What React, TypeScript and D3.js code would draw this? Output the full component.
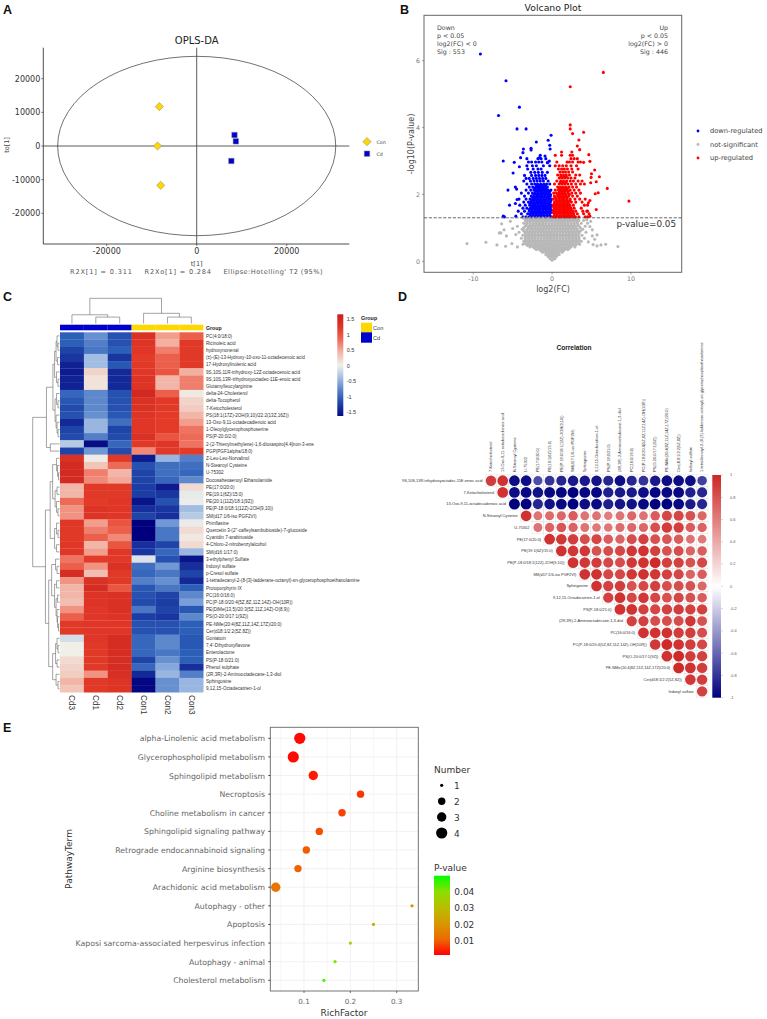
import React from "react";
import * as d3 from "d3";

const SANS = "'DejaVu Sans', sans-serif";
const ARIAL = "'Liberation Sans', Arial, sans-serif";

// ---- A: OPLS-DA
const oplsTicksX = [-20000, 0, 20000];
const oplsTicksY = [-20000, -10000, 0, 10000, 20000];
const oplsCon: [number, number][] = [[-8300, 11700], [-8700, 0], [-8000, -11700]];
const oplsCd: [number, number][] = [[8400, 3270], [8700, 1390], [7700, -4450]];
const oplsEllipse = [30900, 26650];

// ---- B: volcano
const volcanoTicksX = [-10, 0, 10];
const volcanoTicksY = [0, 2, 4, 6];
const downOutliers: [number, number][] = [
  [-9.1, 6.2], [-5.85, 5.4], [-4.15, 4.61], [-6.8, 4.36], [-4.45, 3.96], [-3.3, 3.96], [-0.13, 3.77],
  [-0.5, 3.62], [-2.0, 3.57], [-0.3, 3.47], [-0.25, 3.36], [-2.67, 3.38], [-2.67, 3.33], [-3.64, 3.36],
  [-3.7, 3.25], [-4, 3.1], [-6.2, 3.0], [-4.8, 2.96], [-4.15, 2.83], [-4.95, 2.64], [-5.6, 2.13],
  [-4.66, 2.22], [-4.5, 2.16], [-5.4, 1.68], [-4.66, 1.73], [-4.45, 1.85], [-6.2, 1.35], [-6.05, 1.33],
  [-4.6, 1.35], [-1.5, 3.17], [-1.6, 3.1], [-0.9, 3.15], [-0.35, 3.0], [-0.6, 2.95],
];
const downCloud: [number, number[]][] = [
  [1.33, [-3.7, -3.3, -2.9, -2.55, -2.2, -1.85, -1.5, -1.15, -0.8, -0.45, -0.12]],
  [1.42, [-3.9, -3.1, -2.75, -2.4, -2.05, -1.7, -1.35, -1, -0.65, -0.3]],
  [1.5, [-4.3, -3.5, -2.9, -2.55, -2.2, -1.85, -1.5, -1.15, -0.8, -0.45, -0.12]],
  [1.59, [-3.7, -3.2, -2.75, -2.4, -2.05, -1.7, -1.35, -1, -0.65, -0.3]],
  [1.68, [-4.1, -3.4, -2.85, -2.5, -2.15, -1.8, -1.45, -1.1, -0.75, -0.4, -0.1]],
  [1.77, [-3.6, -3, -2.65, -2.3, -1.95, -1.6, -1.25, -0.9, -0.55, -0.22]],
  [1.86, [-4.2, -3.3, -2.8, -2.45, -2.1, -1.75, -1.4, -1.05, -0.7, -0.35, -0.1]],
  [1.95, [-3.5, -2.65, -2.3, -1.95, -1.6, -1.25, -0.9, -0.55, -0.22]],
  [2.04, [-3.9, -3, -2.5, -2.15, -1.8, -1.45, -1.1, -0.75, -0.4]],
  [2.13, [-3.3, -2.7, -2.3, -1.95, -1.6, -1.25, -0.9, -0.5, -0.15]],
  [2.22, [-2.9, -2.45, -2.05, -1.7, -1.35, -1, -0.6]],
  [2.31, [-3.2, -2.6, -2.2, -1.85, -1.45, -1.05, -0.7, -0.3]],
  [2.4, [-3.6, -2.75, -2.3, -1.9, -1.5, -1.1, -0.5]],
  [2.48, [-3.3, -2.9, -2.4, -2, -1.6, -1.2, -0.8]],
  [2.57, [-3.5, -2.6, -2.1, -1.7, -1.3, -0.9]],
  [2.66, [-2.7, -2.2, -1.75, -1.25, -0.6]],
  [2.76, [-3.1, -2.4, -1.8, -1.4]],
  [2.86, [-3.2, -2.5, -2, -1.1, -0.3]],
  [2.97, [-3, -2.6, -2.1, -1.7, -1.3, -0.5]],
  [3.07, [-3.2, -1.8, -1.4, -0.8]],
  // packed core of the cloud, between the rows above
  [1.37, [-2.75, -2.4, -2.05, -1.7, -1.35, -1, -0.65, -0.3]],
  [1.46, [-2.6, -2.25, -1.9, -1.55, -1.2, -0.85, -0.5, -0.15]],
  [1.55, [-2.9, -2.55, -2.2, -1.85, -1.5, -1.15, -0.8, -0.45, -0.12]],
  [1.64, [-2.6, -2.25, -1.9, -1.55, -1.2, -0.85, -0.5, -0.15]],
  [1.73, [-2.8, -2.45, -2.1, -1.75, -1.4, -1.05, -0.7, -0.35]],
  [1.82, [-2.6, -2.25, -1.9, -1.55, -1.2, -0.85, -0.5, -0.15]],
  [1.91, [-2.45, -2.1, -1.75, -1.4, -1.05, -0.7, -0.35]],
  [2.0, [-2.3, -1.95, -1.6, -1.25, -0.9, -0.55, -0.2]],
  [2.09, [-2.1, -1.75, -1.4, -1.05, -0.7, -0.3]],
  [2.18, [-2.2, -1.8, -1.45, -1.1, -0.75]],
  [2.27, [-1.95, -1.6, -1.25, -0.85]],
];
const upOutliers: [number, number][] = [
  [6.5, 5.65], [2.3, 5.22], [2.3, 4.08], [2.3, 3.96], [2.6, 3.82], [4.0, 3.86], [3.4, 3.63], [3.2, 3.45],
  [3.5, 3.34], [4.66, 3.19], [4.8, 2.99], [4.0, 2.96], [5.4, 2.73], [5.0, 2.62], [6.0, 2.53], [4.95, 2.51],
  [5.6, 2.38], [4.9, 2.35], [7.0, 2.18], [5.85, 2.05], [5.47, 2.02], [9.75, 1.8], [4.8, 1.82], [4.6, 1.75],
  [5.6, 1.55], [4.5, 1.5], [4.8, 1.35],
];
const upCloud: [number, number[]][] = [
  [1.33, [0.15, 0.5, 0.85, 1.2, 1.55, 1.9, 2.25, 2.6, 2.95, 3.4, 4.2, 4.5]],
  [1.42, [0.3, 0.65, 1, 1.35, 1.7, 2.05, 2.4, 2.75, 3.2, 4, 4.7]],
  [1.5, [0.15, 0.5, 0.85, 1.2, 1.55, 1.9, 2.25, 2.6, 3, 3.9, 4.4]],
  [1.59, [0.3, 0.65, 1, 1.35, 1.7, 2.05, 2.4, 2.8, 3.7]],
  [1.68, [0.15, 0.5, 0.85, 1.2, 1.55, 1.9, 2.25, 2.7, 4.1, 4.5]],
  [1.77, [0.3, 0.65, 1, 1.35, 1.7, 2.05, 2.45, 3, 3.8]],
  [1.86, [0.15, 0.5, 0.85, 1.2, 1.55, 1.9, 2.3, 2.9, 3.5, 4.2]],
  [1.95, [0.3, 0.7, 1.05, 1.4, 1.75, 2.1, 2.6, 3.2]],
  [2.04, [0.2, 0.55, 0.9, 1.25, 1.6, 2, 2.5, 3, 3.6]],
  [2.13, [0.4, 0.8, 1.15, 1.5, 1.85, 2.3, 2.8, 3.4]],
  [2.22, [0.7, 1.05, 1.4, 1.75, 2.15, 2.6, 3.1]],
  [2.31, [0.3, 0.9, 1.25, 1.6, 2, 2.45, 3, 3.6, 4.1]],
  [2.4, [0.6, 1.1, 1.45, 1.85, 2.3, 2.7, 3.3, 3.8]],
  [2.49, [0.9, 1.25, 1.6, 2, 2.4, 2.9]],
  [2.58, [0.7, 1.1, 1.45, 1.8, 2.2, 3, 3.5]],
  [2.67, [1, 1.35, 1.7, 2.1, 2.6]],
  [2.76, [0.8, 1.2, 1.55, 1.95, 2.5, 3.3]],
  [2.86, [0.4, 0.9, 1.35, 1.8, 2.4, 3.1]],
  [2.97, [0.6, 1.9, 2.2, 2.6, 3.3, 3.6]],
  [3.07, [2.4, 2.8, 3.2]],
  [3.17, [0.4, 1.2, 2.3, 2.6]],
  [3.27, [1.2, 2.5]],
  // packed core of the cloud, between the rows above
  [1.37, [0.3, 0.65, 1, 1.35, 1.7, 2.05, 2.4, 2.75]],
  [1.46, [0.15, 0.5, 0.85, 1.2, 1.55, 1.9, 2.25, 2.6]],
  [1.55, [0.3, 0.65, 1, 1.35, 1.7, 2.05, 2.4]],
  [1.64, [0.15, 0.5, 0.85, 1.2, 1.55, 1.9, 2.25]],
  [1.73, [0.3, 0.65, 1, 1.35, 1.7, 2.05]],
  [1.82, [0.5, 0.85, 1.2, 1.55, 1.9, 2.25]],
  [1.91, [0.4, 0.85, 1.2, 1.55, 1.9]],
  [2.0, [0.7, 1.05, 1.4, 1.75, 2.2]],
  [2.09, [0.95, 1.3, 1.65, 2.05]],
  [2.18, [0.9, 1.25, 1.6, 1.95]],
  [2.36, [1.05, 1.4, 1.75]],
  [2.53, [1.1, 1.45, 1.8]],
];
const grayOutliers: [number, number][] = [
  [-10.8, 0.53], [-8.4, 0.57], [-7, 0.49], [-5.9, 0.45], [-5.1, 0.53], [-4.4, 0.43], [-6.7, 0.85], [-6.1, 0.94],
  [-5.8, 0.76], [-6.4, 1.12], [-6.5, 0.85], [-5.3, 1.2], [-5, 0.98], [-4.6, 0.8], [8.35, 0.44], [6.8, 0.51],
  [6.2, 0.49], [5.7, 0.46], [5.4, 0.66], [5.7, 0.79], [5.1, 0.94], [4.8, 1.04], [4.4, 1.24], [5.1, 0.76],
  [4.6, 0.58], [5.2, 0.5], [4.9, 1.2],
];
const grayCloud: [number, number[]][] = [
  [0.03, [0]],
  [0.08, [-0.25, 0.1, 0.35]],
  [0.14, [-0.5, -0.15, 0.2, 0.55]],
  [0.2, [-0.8, -0.45, -0.1, 0.25, 0.6, 0.9]],
  [0.27, [-1.2, -0.8, -0.4, 0, 0.4, 0.8, 1.25]],
  [0.35, [-2, -1.6, -1.2, -0.8, -0.4, 0, 0.4, 0.8, 1.2, 1.6, 2]],
  [0.43, [-2.8, -2.4, -2, -1.6, -1.2, -0.8, -0.4, 0, 0.4, 0.8, 1.2, 1.6, 2, 2.4, 2.9]],
  [0.51, [-3.7, -3.3, -2.9, -2.5, -2.1, -1.7, -1.3, -0.9, -0.5, -0.1, 0.3, 0.7, 1.1, 1.5, 1.9, 2.3, 2.7, 3.1, 3.5]],
  [0.6, [-3.6, -3.2, -2.8, -2.4, -2, -1.6, -1.2, -0.8, -0.4, 0, 0.4, 0.8, 1.2, 1.6, 2, 2.4, 2.8, 3.2, 3.7]],
  [0.69, [-3.9, -3.4, -3, -2.6, -2.2, -1.8, -1.4, -1, -0.6, -0.2, 0.2, 0.6, 1, 1.4, 1.8, 2.2, 2.6, 3, 3.4, 4.1]],
  [0.78, [-3.7, -3.2, -2.8, -2.4, -2, -1.6, -1.2, -0.8, -0.4, 0, 0.4, 0.8, 1.2, 1.6, 2, 2.4, 2.8, 3.2, 3.8]],
  [0.87, [-4.2, -3.4, -3, -2.6, -2.2, -1.8, -1.4, -1, -0.6, -0.2, 0.2, 0.6, 1, 1.4, 1.8, 2.2, 2.6, 3, 3.4, 4.3]],
  [0.96, [-3.8, -3.2, -2.8, -2.4, -2, -1.6, -1.2, -0.8, -0.4, 0, 0.4, 0.8, 1.2, 1.6, 2, 2.4, 2.8, 3.2, 3.9]],
  [1.05, [-4.4, -3.4, -3, -2.6, -2.2, -1.8, -1.4, -1, -0.6, -0.2, 0.2, 0.6, 1, 1.4, 1.8, 2.2, 2.6, 3, 3.4, 4.2]],
  [1.14, [-3.6, -3.2, -2.8, -2.4, -2, -1.6, -1.2, -0.8, -0.4, 0, 0.4, 0.8, 1.2, 1.6, 2, 2.4, 2.8, 3.2, 3.7, 4.5]],
  [1.22, [-3.4, -3, -2.6, -2.2, -1.8, -1.4, -1, -0.6, -0.2, 0.2, 0.6, 1, 1.4, 1.8, 2.2, 2.6, 3, 3.4, 4]],
  [1.29, [-3.6, -3.2, -2.8, -2.4, -2, -1.6, -1.2, -0.8, -0.4, 0, 0.4, 0.8, 1.2, 1.6, 2, 2.4, 2.8, 3.1]],
  // packed core of the cloud, between the rows above
  [0.17, [-0.3, 0.05, 0.4]],
  [0.24, [-0.6, -0.2, 0.2, 0.6]],
  [0.31, [-1.4, -1, -0.6, -0.2, 0.2, 0.6, 1, 1.4]],
  [0.39, [-2.2, -1.8, -1.4, -1, -0.6, -0.2, 0.2, 0.6, 1, 1.4, 1.8, 2.2]],
  [0.47, [-3.1, -2.7, -2.3, -1.9, -1.5, -1.1, -0.7, -0.3, 0.1, 0.5, 0.9, 1.3, 1.7, 2.1, 2.5, 2.9]],
  [0.55, [-3.4, -3, -2.6, -2.2, -1.8, -1.4, -1, -0.6, -0.2, 0.2, 0.6, 1, 1.4, 1.8, 2.2, 2.6, 3, 3.4]],
  [0.64, [-3.4, -3, -2.6, -2.2, -1.8, -1.4, -1, -0.6, -0.2, 0.2, 0.6, 1, 1.4, 1.8, 2.2, 2.6, 3, 3.4]],
  [0.73, [-3.4, -3, -2.6, -2.2, -1.8, -1.4, -1, -0.6, -0.2, 0.2, 0.6, 1, 1.4, 1.8, 2.2, 2.6, 3, 3.4]],
  [0.82, [-3.4, -3, -2.6, -2.2, -1.8, -1.4, -1, -0.6, -0.2, 0.2, 0.6, 1, 1.4, 1.8, 2.2, 2.6, 3, 3.4]],
  [0.91, [-3.6, -3.2, -2.8, -2.4, -2, -1.6, -1.2, -0.8, -0.4, 0, 0.4, 0.8, 1.2, 1.6, 2, 2.4, 2.8, 3.2, 3.6]],
  [1.0, [-3.6, -3, -2.6, -2.2, -1.8, -1.4, -1, -0.6, -0.2, 0.2, 0.6, 1, 1.4, 1.8, 2.2, 2.6, 3, 3.6]],
  [1.09, [-3.3, -2.8, -2.4, -2, -1.6, -1.2, -0.8, -0.4, 0, 0.4, 0.8, 1.2, 1.6, 2, 2.4, 2.8, 3.3]],
  [1.18, [-3.2, -2.8, -2.4, -2, -1.6, -1.2, -0.8, -0.4, 0, 0.4, 0.8, 1.2, 1.6, 2, 2.4, 2.8, 3.2]],
  [1.25, [-3.2, -2.8, -2.4, -2, -1.6, -1.2, -0.8, -0.4, 0, 0.4, 0.8, 1.2, 1.6, 2, 2.4, 2.8, 3.2]],
];
const volcanoLegend = ["down-regulated", "not-significant", "up-regulated"];
const volcanoColors = ["#0000ff", "#b8b8b8", "#ff0000"];

// ---- C: heatmap
const heatSamples = ["Cd3", "Cd1", "Cd2", "Con1", "Con2", "Con3"];
const heatTicks = [1.5, 1, 0.5, 0, -0.5, -1, -1.5];
const heatLabels = [
  "PC(4:0/18:0)", "Ricinoleic acid", "hydroxynonenal", "(±)-(E)-13-Hydroxy-10-oxo-11-octadecenoic acid",
  "17-Hydroxylinolenic acid", "9S,10S,11R-trihydroxy-12Z-octadecenoic acid", "9S,10S,13R-trihydroxyoctadec-11E-enoic acid",
  "Glutamylleucylarginine", "delta-24-Cholesterol", "delta-Tocopherol", "7-Ketocholesterol",
  "PS(18:1(17Z)-2OH(9,10)/22:2(13Z,16Z))", "13-Oxo-9,11-octadecadienoic acid", "1-Oleoylglycerophosphoserine",
  "PS(P-20:0/2:0)", "2-(2-Thienylmethylene)-1,6-dioxaspiro[4.4]non-3-ene", "PGP(PGF1alpha/18:0)", "Z-Leu-Leu-Norvalinol",
  "N-Stearoyl Cysteine", "U-75302", "Docosahexaenoyl Ethanolamide", "PE(17:0/20:0)", "PE(19:1(6Z)/15:0)",
  "PE(20:1(11Z)/18:1(9Z))", "PE(P-18:0/18:1(12Z)-2OH(9,10))", "SM(d17:1/6-iso PGF2VI)", "Primflasine",
  "Quercetin 3-(2''-caffeylsambubioside)-7-glucoside", "Cyanidin 7-arabinoside", "4-Chloro-2-nitrobenzylalcohol",
  "SM(d16:1/17:0)", "3-ethylphenyl Sulfate", "Indoxyl sulfate", "p-Cresol sulfate",
  "1-tetradecanyl-2-(8-[3]-ladderane-octanyl)-sn-glycerophosphoethanolamine", "Protoporphyrin IX", "PC(16:0/16:0)",
  "PC(P-18:0/20:4(5Z,8Z,11Z,14Z)-OH(10R))", "PE(DiMe(13,5)/20:3(5Z,11Z,14Z)-O(8,9))", "PS(O-20:0/17:1(9Z))",
  "PE-NMe(20:4(8Z,11Z,14Z,17Z)/20:0)", "Cer(d18:1/2:2(5Z,8Z))", "Goniatoin", "7,4'-Dihydroxyflavone", "Enterolactone",
  "PS(P-18:0/21:0)", "Phenol sulphate", "(2R,3R)-2-Aminooctadecane-1,3-diol", "Sphingosine", "9,12,15-Octadecatrien-1-ol",
];
const heatValues = [
  [-1.0, -0.7, -1.1, 1.3, 0.55, 0.85],
  [-1.0, -0.8, -1.1, 1.25, 0.45, 1.15],
  [-1.2, -0.85, -1.0, 1.2, 0.7, 1.15],
  [-1.3, -0.4, -1.3, 1.1, 0.85, 1.15],
  [-1.45, -0.4, -1.05, 1.15, 0.85, 1.15],
  [-1.5, 0.2, -1.4, 1.2, 0.9, 0.45],
  [-1.45, 0.1, -1.4, 1.25, 0.4, 0.7],
  [-1.45, 0.1, -1.4, 1.25, 0.4, 0.7],
  [-0.95, -0.75, -1.1, 1.5, 0.85, 0.05],
  [-1.05, -0.75, -1.1, 1.3, 1.15, 0.2],
  [-1.15, -0.75, -1.1, 1.3, 1.15, 0.25],
  [-1.1, -0.7, -1.05, 1.25, 1.1, 0.4],
  [-1.4, -0.45, -0.9, 1.2, 1.1, 0.55],
  [-1.2, -0.45, -1.2, 1.2, 1.1, 0.75],
  [-1.15, -0.8, -1.15, 1.3, 0.9, 0.8],
  [-0.3, -1.6, -0.95, 1.15, 1.2, 0.75],
  [-1.2, -0.65, -1.15, 0.65, 1.15, 1.1],
  [1.3, 0.03, 1.15, -1.5, -0.45, -0.8],
  [1.45, 0.3, 0.8, -1.1, -0.9, -0.9],
  [1.45, 0.7, 0.4, -1.2, -0.9, -0.95],
  [1.45, 0.65, 0.5, -1.2, -0.95, -0.75],
  [0.4, 1.15, 1.15, -1.25, -1.5, 0.15],
  [0.4, 1.15, 1.15, -1.25, -1.3, -0.05],
  [0.8, 1.1, 1.2, -1.55, -1.1, -0.02],
  [0.6, 1.25, 1.2, -1.35, -1.3, -0.4],
  [0.6, 1.25, 1.2, -1.2, -1.35, -0.3],
  [1.2, 0.55, 0.9, -1.7, -0.65, -0.03],
  [1.15, 0.7, 0.85, -1.7, -0.85, 0.15],
  [1.15, 0.85, 0.65, -1.7, -0.85, 0.05],
  [1.2, 0.4, 0.9, -1.35, -1.2, 0.15],
  [1.2, 0.55, 1.2, -1.3, -0.95, -0.45],
  [0.75, 1.1, 1.15, -0.1, -1.1, -1.55],
  [0.85, 0.6, 1.3, -0.9, -0.65, -1.35],
  [1.4, 0.35, 1.15, -0.95, -0.85, -1.2],
  [0.6, 1.3, 1.15, -0.8, -0.7, -1.4],
  [0.4, 1.4, 0.9, -1.05, -0.85, -1.0],
  [0.4, 1.25, 1.3, -1.1, -1.2, -0.75],
  [0.35, 1.25, 1.3, -1.15, -1.25, -0.6],
  [0.6, 1.2, 1.3, -0.85, -1.2, -1.05],
  [0.85, 1.2, 1.25, -1.25, -1.3, -0.75],
  [1.15, 1.2, 1.2, -1.1, -1.1, -1.0],
  [1.15, 1.2, 1.2, -1.1, -1.1, -1.0],
  [-0.15, 1.2, 1.4, -0.95, -0.75, -1.05],
  [0.01, 1.15, 1.4, -0.95, -0.75, -1.05],
  [0.01, 1.15, 1.4, -0.95, -0.85, -1.0],
  [0.15, 1.15, 1.4, -1.2, -0.7, -1.0],
  [0.2, 1.15, 1.4, -0.95, -0.55, -1.35],
  [0.25, 0.6, 1.35, -1.4, -0.45, -0.8],
  [0.4, 1.15, 1.25, -1.65, -0.7, -0.45],
  [0.3, 1.15, 1.25, -1.65, -0.7, -0.45],
];
// merge trees: [height, left, right], a number is a leaf index
type Tree = number | [number, Tree, Tree];
const colTree: Tree = [26, [9, 0, [6.6, 1, 2]], [10.5, 3, [6.6, 4, 5]]];
const rowTree: Tree = [27.3,
  [13.3,
    [6.7,
      [5, [3.5, [2.5, 0, [1.5, 1, 2]], [2, 3, 4]], [3, 5, [1.5, 6, 7]]],
      [4.5, [3, 8, [1.5, 9, 10]], [3.5, 11, [2.5, 12, [1.5, 13, 14]]]]],
    [9.3, 15, 16]],
  [14.3,
    [9.5,
      [7, [3, 17, [2, 18, [1, 19, 20]]], [4.5, [2.5, 21, 22], [3, 23, [1.5, 24, 25]]]],
      [5, [3, 26, [1.5, 27, 28]], [3, 29, 30]]],
    [11,
      [8, [4, 31, [2.5, 32, 33]], [5, [3, 34, 35], [3.5, [2, 36, 37], [2.5, 38, [2, 39, [1, 40, 41]]]]]],
      [7, [4, [2.5, 42, [1.5, 43, 44]], [2.5, 45, 46]], [3.5, 47, [1.5, 48, 49]]]]],
];

// ---- D: correlation
const corrRows = [
  "9S,10S,13R-trihydroxyoctadec-11E-enoic acid", "7-Ketocholesterol", "13-Oxo-9,11-octadecadienoic acid",
  "N-Stearoyl Cysteine", "U-75302", "PE(17:0/20:0)", "PE(19:1(6Z)/15:0)", "PE(P-18:0/18:1(12Z)-2OH(9,10))",
  "SM(d17:1/6-iso PGF2VI)", "Sphingosine", "9,12,15-Octadecatrien-1-ol", "PS(P-18:0/21:0)",
  "(2R,3R)-2-Aminooctadecane-1,3-diol", "PC(16:0/16:0)", "PC(P-18:0/20:4(5Z,8Z,11Z,14Z)-OH(10R))",
  "PS(O-20:0/17:1(9Z))", "PE-NMe(20:4(8Z,11Z,14Z,17Z)/20:0)", "Cer(d18:1/2:2(5Z,8Z))", "Indoxyl sulfate",
];
const corrCols = [
  ...corrRows.slice(1),
  "1-tetradecanyl-2-(8-[3]-ladderane-octanyl)-sn-glycerophosphoethanolamine",
];
const corrValues = [
  [0.9, 0.95, -0.95, -0.95, -0.7, -0.8, -0.85, -0.9, -0.9, -0.92, -0.85, -0.95, -0.85, -0.8, -0.9, -0.95, -0.95, -0.95, -0.75],
  [0.95, -0.95, -0.97, -0.93, -0.97, -0.98, -1, -0.97, -0.98, -0.88, -0.9, -0.9, -0.95, -0.98, -0.97, -0.97, -0.88, -0.85],
  [-1, -1, -0.85, -0.93, -0.97, -1, -0.95, -0.97, -0.88, -0.92, -0.93, -0.97, -0.99, -1, -0.97, -0.9, -0.85],
  [0.95, 0.65, 0.68, 0.7, 0.75, 0.65, 0.65, 0.6, 0.65, 0.7, 0.65, 0.75, 0.85, 0.85, 0.8, 0.7],
  [0.65, 0.72, 0.78, 0.72, 0.65, 0.62, 0.62, 0.68, 0.7, 0.7, 0.8, 0.9, 0.88, 0.75, 0.72],
  [0.95, 0.92, 0.9, 0.82, 0.85, 0.75, 0.72, 0.82, 0.88, 0.8, 0.78, 0.75, 0.65, 0.62],
  [0.95, 0.93, 0.92, 0.8, 0.82, 0.85, 0.92, 0.95, 0.88, 0.8, 0.82, 0.72, 0.75],
  [0.95, 0.92, 0.9, 0.85, 0.82, 0.92, 0.95, 0.98, 0.88, 0.88, 0.8, 0.85],
  [0.95, 0.95, 0.85, 0.85, 0.92, 0.95, 0.92, 0.88, 0.85, 0.72, 0.75],
  [0.95, 0.88, 0.9, 0.8, 0.85, 0.88, 0.82, 0.82, 0.8, 0.7],
  [0.88, 0.95, 0.85, 0.92, 0.85, 0.8, 0.85, 0.8, 0.75],
  [0.95, 0.95, 0.88, 0.85, 0.88, 0.9, 0.88, 0.88],
  [0.88, 0.88, 0.82, 0.82, 0.82, 0.92, 0.8],
  [0.95, 0.95, 0.95, 0.9, 0.9, 0.82],
  [0.92, 0.98, 0.95, 0.9, 0.85],
  [0.95, 0.98, 0.9, 0.88],
  [0.98, 0.95, 0.9],
  [0.92, 0.9],
  [0.88],
];
const corrTicks = [1, 0.8, 0.6, 0.4, 0.2, 0, -0.2, -0.4, -0.6, -0.8, -1];

// ---- E: enrichment bubbles
const pathways = [
  "alpha-Linolenic acid metabolism", "Glycerophospholipid metabolism", "Sphingolipid metabolism", "Necroptosis",
  "Choline metabolism in cancer", "Sphingolipid signaling pathway", "Retrograde endocannabinoid signaling",
  "Arginine biosynthesis", "Arachidonic acid metabolism", "Autophagy - other", "Apoptosis",
  "Kaposi sarcoma-associated herpesvirus infection", "Autophagy - animal", "Cholesterol metabolism",
];
const richFactor = [0.0909, 0.0769, 0.12, 0.222, 0.182, 0.133, 0.105, 0.087, 0.039, 0.333, 0.25, 0.2, 0.167, 0.143];
const pathwayCount = [4, 4, 3, 2, 2, 2, 2, 2, 3, 1, 1, 1, 1, 1];
const pathwayP = [0.0015, 0.0015, 0.002, 0.004, 0.005, 0.0065, 0.0085, 0.0095, 0.013, 0.019, 0.026, 0.037, 0.043, 0.048];
const richTicks = [0.1, 0.2, 0.3];
const pTicks = [0.04, 0.03, 0.02, 0.01];
const countLegend = [1, 2, 3, 4];

const PanelLetter = ({ x, y, t }: { x: number; y: number; t: string }) => (
  <text x={x} y={y} fontFamily={ARIAL} fontWeight="bold" fontSize={12.5} fill="#111">{t}</text>
);

const OplsPanel = () => {
  const x = d3.scaleLinear().domain([-20000, 20000]).range([106.7, 286.7]);
  const y = d3.scaleLinear().domain([-20000, 20000]).range([213.3, 78.7]);
  const square = d3.symbol().type(d3.symbolSquare).size(30)()!;
  const diamond = d3.symbol().type(d3.symbolSquare).size(34)()!;
  const left = 43.3, right = 349.3, top = 47.7, bottom = 244;
  return (
    <g fontFamily={SANS}>
      <text x={x(0)} y={43.5} textAnchor="middle" fontSize={10} fill="#222">OPLS-DA</text>
      <line x1={left} x2={left} y1={top} y2={bottom} stroke="#222" strokeWidth={0.8} />
      <line x1={left} x2={right} y1={bottom} y2={bottom} stroke="#222" strokeWidth={0.8} />
      <line x1={x(0)} x2={x(0)} y1={top} y2={bottom} stroke="#333" strokeWidth={0.8} />
      <line x1={left} x2={right} y1={y(0)} y2={y(0)} stroke="#333" strokeWidth={0.8} />
      <ellipse cx={x(0)} cy={y(0)} rx={x(oplsEllipse[0]) - x(0)} ry={y(0) - y(oplsEllipse[1])} fill="none" stroke="#333" strokeWidth={0.7} />
      {oplsTicksX.map((t) => (
        <g key={t}>
          <line x1={x(t)} x2={x(t)} y1={bottom} y2={bottom + 2} stroke="#222" strokeWidth={0.6} />
          <text x={x(t)} y={bottom + 9.5} textAnchor="middle" fontSize={8} fill="#333">{t}</text>
        </g>
      ))}
      {oplsTicksY.map((t) => (
        <g key={t}>
          <line x1={left - 2} x2={left} y1={y(t)} y2={y(t)} stroke="#222" strokeWidth={0.6} />
          <text x={left - 3} y={y(t) + 3} textAnchor="end" fontSize={8} fill="#333">{t}</text>
        </g>
      ))}
      {oplsCon.map((d, i) => (
        <path key={i} d={diamond} transform={`translate(${x(d[0])},${y(d[1])}) rotate(45)`} fill="#ffd700" stroke="#888" strokeWidth={0.5} />
      ))}
      {oplsCd.map((d, i) => (
        <path key={i} d={square} transform={`translate(${x(d[0])},${y(d[1])})`} fill="#0000cd" stroke="#889" strokeWidth={0.5} />
      ))}
      <text x={x(0)} y={266} textAnchor="middle" fontSize={6.5} fill="#444">t[1]</text>
      <text transform="translate(8.5,145) rotate(-90)" textAnchor="middle" fontSize={6.5} fill="#444">to[1]</text>
      <text x={70} y={274} fontSize={6.6} fill="#555" textLength={62}>R2X[1] = 0.311</text>
      <text x={144.5} y={274} fontSize={6.6} fill="#555" textLength={66.5}>R2Xo[1] = 0.284</text>
      <text x={223.5} y={274} fontSize={6.6} fill="#555" textLength={99}>Ellipse:Hotelling' T2 (95%)</text>
      <path d={diamond} transform="translate(367,141.7) rotate(45)" fill="#ffd700" stroke="#888" strokeWidth={0.5} />
      <path d={square} transform="translate(367,153.7)" fill="#0000cd" stroke="#889" strokeWidth={0.5} />
      <text x={376.5} y={144} fontSize={4.8} fill="#444">Con</text>
      <text x={376.5} y={156} fontSize={4.8} fill="#444">Cd</text>
    </g>
  );
};

const VolcanoPanel = () => {
  const x = d3.scaleLinear().domain([-10, 10]).range([473.3, 630.9]);
  const y = d3.scaleLinear().domain([0, 6]).range([261.3, 60.7]);
  const left = 424, right = 681.7, top = 15.3, bottom = 272.3;
  const flat = (rows: [number, number[]][]) => rows.flatMap(([v, xs]) => xs.map((u) => [u, v] as [number, number]));
  const groups = [
    { pts: [...downOutliers, ...flat(downCloud)], color: volcanoColors[0] },
    { pts: [...grayOutliers, ...flat(grayCloud)], color: volcanoColors[1] },
    { pts: [...upOutliers, ...flat(upCloud)], color: volcanoColors[2] },
  ];
  return (
    <g fontFamily={SANS}>
      <text x={553} y={10.5} textAnchor="middle" fontSize={9.3} fill="#222">Volcano Plot</text>
      {groups.map((g) => g.pts.map((p, i) => (
        <circle key={g.color + i} cx={x(p[0])} cy={y(p[1])} r={1.55} fill={g.color} />
      )))}
      <line x1={left} x2={right} y1={y(1.301)} y2={y(1.301)} stroke="#444" strokeWidth={0.8} strokeDasharray="3.2 1.6" />
      <rect x={left} y={top} width={right - left} height={bottom - top} fill="none" stroke="#666" strokeWidth={1} />
      {volcanoTicksX.map((t) => (
        <g key={t}>
          <line x1={x(t)} x2={x(t)} y1={bottom} y2={bottom + 2} stroke="#666" strokeWidth={0.6} />
          <text x={x(t)} y={bottom + 9} textAnchor="middle" fontSize={6.3} fill="#777">{t}</text>
        </g>
      ))}
      {volcanoTicksY.map((t) => (
        <g key={t}>
          <line x1={left - 2} x2={left} y1={y(t)} y2={y(t)} stroke="#666" strokeWidth={0.6} />
          <text x={left - 4} y={y(t) + 2.2} textAnchor="end" fontSize={6.3} fill="#777">{t}</text>
        </g>
      ))}
      <text x={553} y={292} textAnchor="middle" fontSize={8} fill="#444">log2(FC)</text>
      <text transform="translate(414,144) rotate(-90)" textAnchor="middle" fontSize={8} fill="#444">-log10(P-value)</text>
      <text x={676} y={227} textAnchor="end" fontSize={8.8} fill="#333">p-value=0.05</text>
      {["Down", "p < 0.05", "log2(FC) < 0", "Sig : 553"].map((t, i) => (
        <text key={t} x={437} y={30.3 + i * 7.75} fontSize={6.3} fill="#444">{t}</text>
      ))}
      {["Up", "p < 0.05", "log2(FC) > 0", "Sig : 446"].map((t, i) => (
        <text key={t} x={668} y={30.3 + i * 7.75} textAnchor="end" fontSize={6.3} fill="#444">{t}</text>
      ))}
      {volcanoLegend.map((t, i) => (
        <g key={t}>
          <circle cx={698} cy={131 + i * 13.5} r={1.4} fill={volcanoColors[i]} />
          <text x={710} y={133.4 + i * 13.5} fontSize={6.7} fill="#444">{t}</text>
        </g>
      ))}
    </g>
  );
};

// walks a merge tree, returns the node position and pushes "rake" shapes
function walkTree(node: Tree, leafPos: (i: number) => number, out: { p: number; h: number; a: number; b: number; ha: number; hb: number }[]): { p: number; h: number } {
  if (typeof node === "number") return { p: leafPos(node), h: 0 };
  const a = walkTree(node[1], leafPos, out);
  const b = walkTree(node[2], leafPos, out);
  const p = (a.p + b.p) / 2;
  out.push({ p, h: node[0], a: a.p, b: b.p, ha: a.h, hb: b.h });
  return { p, h: node[0] };
}

const HeatmapPanel = () => {
  const x = d3.scaleBand().domain(heatSamples).range([60, 203.3]);
  const y = d3.scaleBand<number>().domain(d3.range(heatLabels.length)).range([332.3, 692.3]);
  const color = d3.scaleLinear<string>()
    .domain([-1.7, -1, -0.5, 0, 0.5, 1, 1.7])
    .range(["#00007f", "#2c5fb8", "#8fb0e0", "#f0f0ea", "#f3a898", "#e8402a", "#c81e1e"]);
  const barScale = d3.scaleLinear().domain([-1.5, 1.5]).range([412, 319.3]);
  const barDomain = [1.67, 1.2, 0.8, 0.4, 0, -0.4, -0.8, -1.2, -1.62];

  const colOut: any[] = [];
  walkTree(colTree, (i) => x(heatSamples[i])! + x.bandwidth() / 2, colOut);
  const colH = d3.scaleLinear().domain([0, 26]).range([323.5, 298.3]);
  const colPath = d3.path();
  colOut.forEach((n) => {
    colPath.moveTo(n.a, colH(n.ha));
    colPath.lineTo(n.a, colH(n.h));
    colPath.lineTo(n.b, colH(n.h));
    colPath.lineTo(n.b, colH(n.hb));
  });

  const rowOut: any[] = [];
  walkTree(rowTree, (i) => y(i)! + y.bandwidth() / 2, rowOut);
  const rowH = d3.scaleLinear().domain([0, 27.3]).range([59.5, 32.7]);
  const rowPath = d3.path();
  rowOut.forEach((n) => {
    rowPath.moveTo(rowH(n.ha), n.a);
    rowPath.lineTo(rowH(n.h), n.a);
    rowPath.lineTo(rowH(n.h), n.b);
    rowPath.lineTo(rowH(n.hb), n.b);
  });

  return (
    <g fontFamily={ARIAL}>
      <path d={colPath.toString()} fill="none" stroke="#666" strokeWidth={0.6} />
      <path d={rowPath.toString()} fill="none" stroke="#666" strokeWidth={0.6} />
      {heatSamples.map((s, i) => (
        <rect key={s} x={x(s)} y={324.7} width={x.bandwidth()} height={5.6} fill={i < 3 ? "#0000cd" : "#ffd700"} />
      ))}
      <text x={206} y={329.5} fontSize={5.2} fontWeight="bold" fill="#222">Group</text>
      {heatValues.map((row, r) => row.map((v, c) => (
        <rect key={`${r}-${c}`} x={x(heatSamples[c])} y={y(r)} width={x.bandwidth() + 0.2} height={y.bandwidth() + 0.2} fill={color(v)} />
      )))}
      {heatLabels.map((t, r) => (
        <text key={t} x={206} y={y(r)! + 5.3} fontSize={4.62} fill="#333">{t}</text>
      ))}
      {heatSamples.map((s) => (
        <text key={s} transform={`translate(${x(s)! + x.bandwidth() / 2 - 2.8},695) rotate(90)`} fontSize={8.2} fill="#333">{s}</text>
      ))}
      <defs>
        <linearGradient id="heatGrad" x1="0" x2="0" y1="0" y2="1">
          {barDomain.map((v, i) => (
            <stop key={v} offset={i / (barDomain.length - 1)} stopColor={color(v)} />
          ))}
        </linearGradient>
      </defs>
      <rect x={337.3} y={314.3} width={6} height={101.7} fill="url(#heatGrad)" />
      {heatTicks.map((t) => (
        <text key={t} x={346.7} y={barScale(t) + 2} fontSize={5.5} fill="#333">{t}</text>
      ))}
      <text x={361} y={319.5} fontSize={5.4} fontWeight="bold" fill="#222">Group</text>
      <rect x={361} y={322.7} width={11} height={9.6} fill="#ffd700" />
      <rect x={361} y={332.3} width={11} height={10.4} fill="#0000cd" />
      <text x={373} y={329.7} fontSize={5.6} fill="#333">Con</text>
      <text x={373} y={339.7} fontSize={5.6} fill="#333">Cd</text>
    </g>
  );
};

const CorrelationPanel = () => {
  const x = d3.scaleBand<number>().domain(d3.range(corrCols.length)).range([485.1, 485.1 + 19 * 11.73]);
  const y = d3.scaleBand<number>().domain(d3.range(corrRows.length)).range([474.85, 474.85 + 19 * 11.7]);
  const color = d3.scaleLinear<string>().domain([-1, 0, 1]).range(["#00007f", "#ffffff", "#cd2626"]);
  const radius = d3.scaleSqrt().domain([0, 1]).range([0, 5.5]);
  const barY = d3.scaleLinear().domain([-1, 1]).range([697.7, 475]);
  return (
    <g fontFamily={ARIAL}>
      <text x={574} y={350} textAnchor="middle" fontSize={6.6} fontWeight="bold" fill="#222">Correlation</text>
      {corrValues.map((row, r) => row.map((v, i) => {
        const c = r + i;
        const bw = x.bandwidth();
        return (
          <g key={`${r}-${c}`}>
            <rect x={x(c)} y={y(r)} width={bw} height={y.bandwidth()} fill="#fff" stroke="#ddd" strokeWidth={0.4} />
            <circle cx={x(c)! + bw / 2} cy={y(r)! + y.bandwidth() / 2} r={radius(Math.abs(v))} fill={color(v)} />
          </g>
        );
      }))}
      {corrRows.map((t, r) => (
        <text key={t} x={x(r)! - 2.6} y={y(r)! + y.bandwidth() / 2 + 1.3} textAnchor="end" fontSize={3.95} fill="#333">{t}</text>
      ))}
      {corrCols.map((t, c) => (
        <text key={t} transform={`translate(${x(c)! + x.bandwidth() / 2 + 1.3},472) rotate(-90)`} fontSize={3.9} fill="#333">{t}</text>
      ))}
      <defs>
        <linearGradient id="corrGrad" x1="0" x2="0" y1="0" y2="1">
          {[1, 0, -1].map((v, i) => (
            <stop key={v} offset={i / 2} stopColor={color(v)} />
          ))}
        </linearGradient>
      </defs>
      <rect x={712.3} y={475} width={8.7} height={222.7} fill="url(#corrGrad)" />
      {corrTicks.map((t) => (
        <g key={t}>
          <line x1={721} x2={723} y1={barY(t)} y2={barY(t)} stroke="#999" strokeWidth={0.4} />
          <text x={730} y={barY(t) + 1.4} fontSize={3.9} fill="#555">{t}</text>
        </g>
      ))}
    </g>
  );
};

const EnrichmentPanel = () => {
  const x = d3.scaleLinear().domain([0.1, 0.3]).range([304, 396.7]);
  const y = d3.scalePoint().domain(pathways).range([738.3, 980.3]);
  const r = d3.scaleOrdinal<number, number>().domain(countLegend).range([1.6, 3.7, 4.7, 5.6]);
  const color = d3.scaleLinear<string>().domain([0.0013, 0.0494]).range(["#ff0000", "#00ff00"]).interpolate(d3.interpolateLab);
  const barY = d3.scaleLinear().domain([0.01, 0.04]).range([940.7, 891.3]);
  const left = 270.3, right = 418.3, top = 727.3, bottom = 991;
  const gridTicks = [0.05, 0.1, 0.15, 0.2, 0.25, 0.3];
  const legendY = [785.3, 801.3, 817, 833];
  return (
    <g fontFamily={SANS}>
      {gridTicks.map((t) => (
        <line key={t} x1={x(t)} x2={x(t)} y1={top} y2={bottom} stroke="#ececec" strokeWidth={richTicks.includes(t) ? 0.7 : 0.4} />
      ))}
      {pathways.map((p) => (
        <line key={p} x1={left} x2={right} y1={y(p)} y2={y(p)} stroke="#ececec" strokeWidth={0.7} />
      ))}
      {pathways.map((p, i) => (
        <circle key={p} cx={x(richFactor[i])} cy={y(p)} r={r(pathwayCount[i])} fill={color(pathwayP[i])} />
      ))}
      <rect x={left} y={top} width={right - left} height={bottom - top} fill="none" stroke="#666" strokeWidth={0.9} />
      {pathways.map((p) => (
        <g key={p}>
          <line x1={left - 2} x2={left} y1={y(p)} y2={y(p)} stroke="#333" strokeWidth={0.9} />
          <text x={265} y={y(p)! + 3} textAnchor="end" fontSize={7.75} fill="#666">{p}</text>
        </g>
      ))}
      {richTicks.map((t) => (
        <g key={t}>
          <line x1={x(t)} x2={x(t)} y1={bottom} y2={bottom + 2} stroke="#333" strokeWidth={0.7} />
          <text x={x(t)} y={1003.5} textAnchor="middle" fontSize={7.2} fill="#666">{t}</text>
        </g>
      ))}
      <text x={344} y={1016} textAnchor="middle" fontSize={9} fill="#333">RichFactor</text>
      <text transform="translate(72,859) rotate(-90)" textAnchor="middle" fontSize={9} fill="#333">PathwayTerm</text>
      <text x={434} y={773} fontSize={9} fill="#333">Number</text>
      {countLegend.map((c, i) => (
        <g key={c}>
          <circle cx={441.7} cy={legendY[i]} r={r(c)} fill="#000" />
          <text x={454} y={legendY[i] + 4} fontSize={9} fill="#333">{c}</text>
        </g>
      ))}
      <text x={434} y={871} fontSize={9} fill="#333">P-value</text>
      <defs>
        <linearGradient id="pGrad" x1="0" x2="0" y1="1" y2="0">
          {[0, 0.2, 0.4, 0.6, 0.8, 1].map((o) => (
            <stop key={o} offset={o} stopColor={color(0.0013 + o * 0.0481)} />
          ))}
        </linearGradient>
      </defs>
      <rect x={434} y={875.7} width={16} height={79.3} fill="url(#pGrad)" />
      {pTicks.map((t) => (
        <text key={t} x={454.3} y={barY(t) + 3.3} fontSize={9} fill="#333">{t}</text>
      ))}
    </g>
  );
};

export default function App() {
  return (
    <svg width={767} height={1019} style={{ position: "absolute", left: 0, top: 0, background: "#fff" }}>
      <PanelLetter x={3} y={13.5} t="A" />
      <PanelLetter x={400} y={13.5} t="B" />
      <PanelLetter x={3} y={301} t="C" />
      <PanelLetter x={398} y={301} t="D" />
      <PanelLetter x={3} y={731.5} t="E" />
      <OplsPanel />
      <VolcanoPanel />
      <HeatmapPanel />
      <CorrelationPanel />
      <EnrichmentPanel />
    </svg>
  );
}
